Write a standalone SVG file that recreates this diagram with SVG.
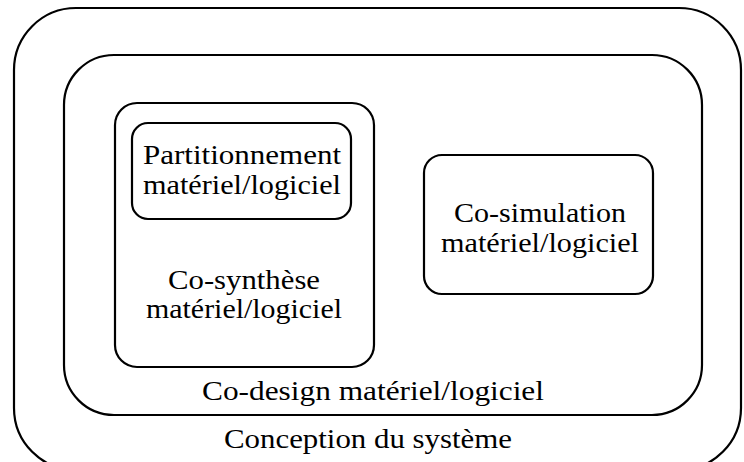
<svg xmlns="http://www.w3.org/2000/svg" width="744" height="462" viewBox="0 0 744 462">
<style>
.box{fill:none;stroke:#000;stroke-width:2.2}
.t{font-family:"Liberation Serif","Times New Roman",serif;font-size:28px;fill:#000;text-anchor:middle}
</style>
<rect width="744" height="462" fill="#fff"/>
<g id="conception">
<rect class="box" x="14" y="8" width="727" height="462" rx="62" ry="62"/>
<text class="t" x="368" y="448" textLength="288" lengthAdjust="spacingAndGlyphs">Conception du système</text>
</g>
<g id="codesign">
<rect class="box" x="64" y="55" width="638" height="360" rx="50" ry="50"/>
<text class="t" x="373" y="400" textLength="342" lengthAdjust="spacingAndGlyphs">Co-design matériel/logiciel</text>
</g>
<g id="cosynthese">
<rect class="box" x="115" y="103" width="259" height="264" rx="22" ry="22"/>
<text class="t" x="244" y="289" textLength="152" lengthAdjust="spacingAndGlyphs">Co-synthèse</text>
<text class="t" x="244" y="318" textLength="196" lengthAdjust="spacingAndGlyphs">matériel/logiciel</text>
</g>
<g id="partitionnement">
<rect class="box" x="132" y="123" width="219" height="96" rx="16" ry="16"/>
<text class="t" x="242" y="164" textLength="198" lengthAdjust="spacingAndGlyphs">Partitionnement</text>
<text class="t" x="242" y="194" textLength="198" lengthAdjust="spacingAndGlyphs">matériel/logiciel</text>
</g>
<g id="cosimulation">
<rect class="box" x="424" y="155" width="229" height="139" rx="18" ry="18"/>
<text class="t" x="540" y="222" textLength="172" lengthAdjust="spacingAndGlyphs">Co-simulation</text>
<text class="t" x="540" y="252" textLength="198" lengthAdjust="spacingAndGlyphs">matériel/logiciel</text>
</g>
<g id="connectors"></g>
</svg>
